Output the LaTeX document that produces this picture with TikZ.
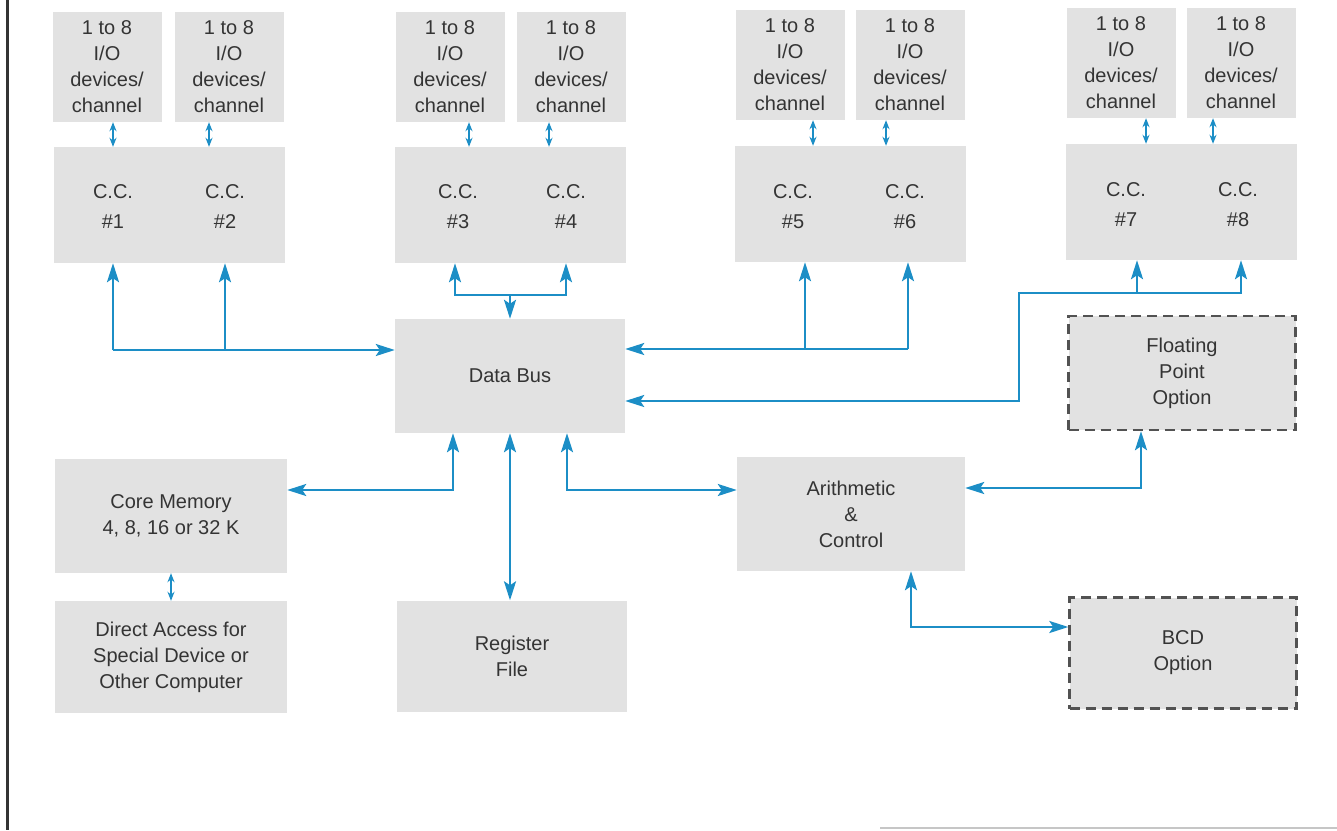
\documentclass[tikz,border=0pt]{standalone}
\usepackage{fontspec}
\setmainfont{Liberation Sans}
\usetikzlibrary{arrows.meta}
\definecolor{busblue}{RGB}{28,142,198}
\definecolor{boxgray}{RGB}{226,226,226}
\definecolor{inkgray}{RGB}{52,52,52}
\tikzset{
    box/.style={fill=boxgray,inner sep=0pt,align=center,text=inkgray,font=\fontsize{20}{26}\selectfont},
    iobox/.style={box,minimum width=109pt,minimum height=110pt},
    ccbox/.style={box,minimum width=231pt,minimum height=116pt},
    unitbox/.style={box,minimum width=230pt,minimum height=114pt},
    optbox/.style={unitbox,minimum width=227pt,draw=inkgray!85,line width=2.4pt,dash pattern=on 10pt off 6pt},
    cclabel/.style={align=center,text=inkgray,font=\fontsize{20}{30}\selectfont},
    bus/.style={draw=busblue,line width=2.5pt,>={Stealth[length=19pt,width=12pt,inset=4pt]},->},
    tick/.style={draw=busblue,line width=1.8pt,>={Stealth[length=9pt,width=7pt]},<->}
}
\begin{document}
\begin{tikzpicture}[x=1pt,y=-1pt]
\useasboundingbox[fill=white] (0,0) rectangle (1337,830);
\draw[line width=3pt,inkgray] (7,0) -- (7,830);
\draw[line width=1.2pt,gray!45] (880,828) -- (1337,828);

% I/O device groups
\node[iobox] (io1) at (107,67) {1 to 8\\I/O\\devices/\\channel};
\node[iobox] (io2) at (229,67) {1 to 8\\I/O\\devices/\\channel};
\node[iobox] (io3) at (450,67) {1 to 8\\I/O\\devices/\\channel};
\node[iobox] (io4) at (571,67) {1 to 8\\I/O\\devices/\\channel};
\node[iobox] (io5) at (790,65) {1 to 8\\I/O\\devices/\\channel};
\node[iobox] (io6) at (910,65) {1 to 8\\I/O\\devices/\\channel};
\node[iobox] (io7) at (1121,63) {1 to 8\\I/O\\devices/\\channel};
\node[iobox] (io8) at (1241,63) {1 to 8\\I/O\\devices/\\channel};

% channel controllers
\node[ccbox] (cc12) at (169,205) {};
\node[ccbox] (cc34) at (510,205) {};
\node[ccbox] (cc56) at (850,204) {};
\node[ccbox] (cc78) at (1181,202) {};
\node[cclabel] (cc1) at (113,207) {C.C.\\\#1};
\node[cclabel] (cc2) at (225,207) {C.C.\\\#2};
\node[cclabel] (cc3) at (458,207) {C.C.\\\#3};
\node[cclabel] (cc4) at (566,207) {C.C.\\\#4};
\node[cclabel] (cc5) at (793,207) {C.C.\\\#5};
\node[cclabel] (cc6) at (905,207) {C.C.\\\#6};
\node[cclabel] (cc7) at (1126,205) {C.C.\\\#7};
\node[cclabel] (cc8) at (1238,205) {C.C.\\\#8};

% main units
\node[unitbox] (bus) at (510,376) {Data Bus};
\node[optbox] (fp) at (1182,373) {Floating\\Point\\Option};
\node[unitbox,minimum width=232pt] (core) at (171,516) {Core Memory\\4, 8, 16 or 32 K};
\node[unitbox,minimum width=228pt] (arith) at (851,514) {Arithmetic\\\&\\Control};
\node[unitbox,minimum width=232pt,minimum height=112pt] (direct) at (171,657) {Direct Access for\\Special Device or\\Other Computer};
\node[unitbox,minimum height=111pt] (reg) at (512,656) {Register\\File};
\node[optbox,minimum height=111pt] (bcd) at (1183,653) {BCD\\Option};

% junctions
\coordinate (j1) at (113,350);
\coordinate (j3) at (455,295);
\coordinate (j6) at (908,349);
\coordinate (j7) at (1019,293);
\coordinate (j7b) at (1019,401);
\coordinate (j8) at (1241,293);
\coordinate (k1) at (453,490);
\coordinate (k2) at (567,490);
\coordinate (k3) at (1141,488);
\coordinate (k4) at (911,627);

% device to controller
\draw[tick] ([xshift=6pt]io1.south) -- ([xshift=6pt]io1.south |- cc12.north);
\draw[tick] ([xshift=-20pt]io2.south) -- ([xshift=-20pt]io2.south |- cc12.north);
\draw[tick] ([xshift=19pt]io3.south) -- ([xshift=19pt]io3.south |- cc34.north);
\draw[tick] ([xshift=-22pt]io4.south) -- ([xshift=-22pt]io4.south |- cc34.north);
\draw[tick] ([xshift=23pt]io5.south) -- ([xshift=23pt]io5.south |- cc56.north);
\draw[tick] ([xshift=-24pt]io6.south) -- ([xshift=-24pt]io6.south |- cc56.north);
\draw[tick] ([xshift=25pt]io7.south) -- ([xshift=25pt]io7.south |- cc78.north);
\draw[tick] ([xshift=-28pt]io8.south) -- ([xshift=-28pt]io8.south |- cc78.north);
\draw[tick] (core.south) -- (direct.north);

% controllers to data bus
\draw[bus] (j1) -- (j1 -| bus.west);
\draw[bus] (j1) -- (j1 |- cc12.south);
\draw[bus] (j1 -| cc2) -- (cc2 |- cc12.south);
\draw[bus,<->] (j3 |- cc34.south) -- (j3) -- (j3 -| cc4) -- (cc4 |- cc34.south);
\draw[bus] (bus.north |- j3) -- (bus.north);
\draw[bus] (j6) -- (j6 -| bus.east);
\draw[bus] (j6) -- (j6 |- cc56.south);
\draw[bus] (805,349) -- (805,0 |- cc56.south);
\draw[bus,<->] (j8 |- cc78.south) -- (j8) -- (j7) -- (j7b) -- (j7b -| bus.east);
\draw[bus] (1137,293) -- (1137,0 |- cc78.south);

% data bus to units
\draw[bus,<->] (k1 -| core.east) -- (k1) -- (k1 |- bus.south);
\draw[bus,<->] (bus.south) -- (bus.south |- reg.north);
\draw[bus,<->] (k2 |- bus.south) -- (k2) -- (k2 -| arith.west);
\draw[bus,<->] (k3 -| arith.east) -- (k3) -- (k3 |- fp.south);
\draw[bus,<->] (k4 |- arith.south) -- (k4) -- (k4 -| bcd.west);
\end{tikzpicture}
\end{document}
